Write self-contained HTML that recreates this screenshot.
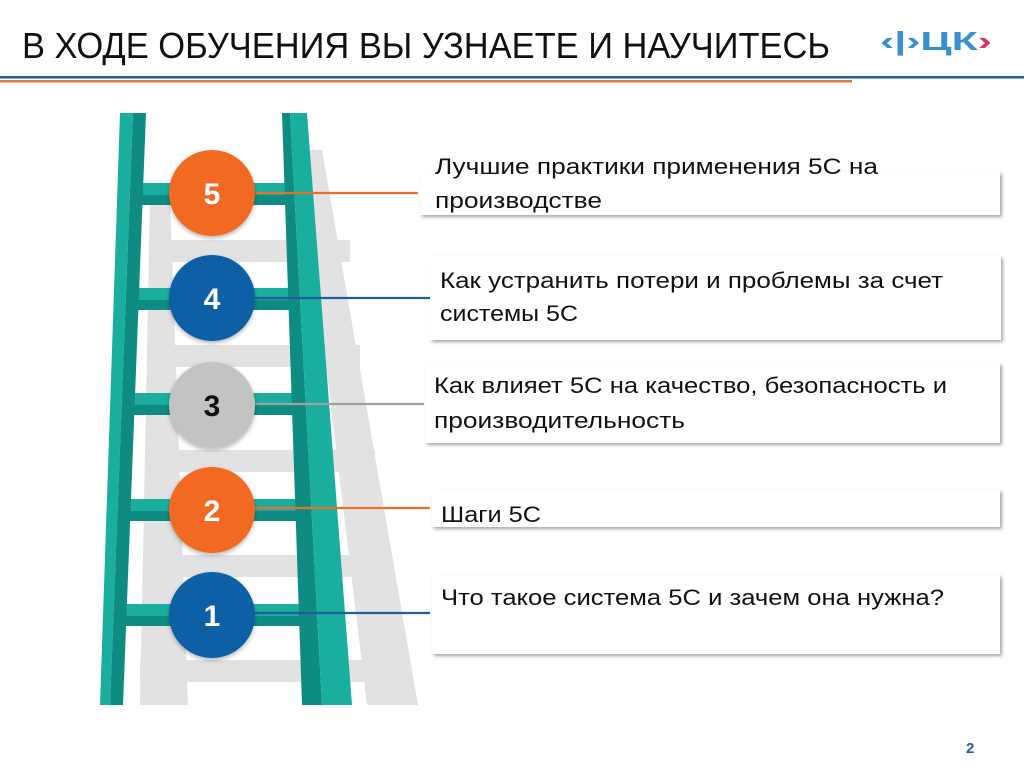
<!DOCTYPE html>
<html><head><meta charset="utf-8"><style>
html,body{margin:0;padding:0;background:#fff;}
svg{display:block;}
</style></head><body>
<svg width="1024" height="767" viewBox="0 0 1024 767" xmlns="http://www.w3.org/2000/svg" font-family="'Liberation Sans', sans-serif">
<defs>
<filter id="sh" x="-10%" y="-10%" width="120%" height="130%"><feDropShadow dx="2" dy="2" stdDeviation="1.5" flood-color="#000" flood-opacity="0.35"/></filter>
<filter id="cs" x="-20%" y="-20%" width="140%" height="140%"><feDropShadow dx="0" dy="2" stdDeviation="2" flood-color="#000" flood-opacity="0.3"/></filter>
</defs>
<rect width="1024" height="767" fill="#fff"/>
<!-- title -->
<text x="22" y="58" font-size="36" fill="#111" textLength="808" lengthAdjust="spacingAndGlyphs">В ХОДЕ ОБУЧЕНИЯ ВЫ УЗНАЕТЕ И НАУЧИТЕСЬ</text>
<text x="880" y="50" font-size="26" font-weight="bold" fill="#3a8fd0" textLength="112" lengthAdjust="spacingAndGlyphs">‹|›ЦК<tspan fill="#d8345f">›</tspan></text>
<rect x="0" y="76" width="1024" height="2.5" fill="#1f5f9a"/>
<rect x="0" y="80" width="852" height="2.5" fill="#e07a45"/>

<!-- shadow ladder -->
<g fill="#e2e2e2">
<polygon points="300,150 322,150 418,705 367,705"/>
<polygon points="150,200 170,200 188,705 140,705"/>
<rect x="160" y="240" width="190" height="22"/>
<rect x="155" y="345" width="205" height="22"/>
<rect x="150" y="450" width="225" height="22"/>
<rect x="145" y="555" width="240" height="22"/>
<rect x="140" y="660" width="255" height="22"/>
</g>

<!-- rungs -->
<g>
<rect x="135" y="183" width="155" height="12" fill="#1aae9f"/><rect x="135" y="195" width="155" height="10" fill="#0e8c82"/>
<rect x="131" y="288" width="163" height="12" fill="#1aae9f"/><rect x="131" y="300" width="163" height="10" fill="#0e8c82"/>
<rect x="126" y="393" width="172" height="12" fill="#1aae9f"/><rect x="126" y="405" width="172" height="10" fill="#0e8c82"/>
<rect x="120" y="499" width="183" height="12" fill="#1aae9f"/><rect x="120" y="511" width="183" height="10" fill="#0e8c82"/>
<rect x="115" y="604" width="193" height="12" fill="#1aae9f"/><rect x="115" y="616" width="193" height="10" fill="#0e8c82"/>
</g>
<!-- rails -->
<polygon points="120,113 133,113 110,705 100,705" fill="#1aae9f"/>
<polygon points="133,113 146,113 123,705 110,705" fill="#0e8c82"/>
<polygon points="282,113 290,113 322,705 302,705" fill="#0e8c82"/>
<polygon points="290,113 307,113 352,705 322,705" fill="#1aae9f"/>

<!-- connectors -->
<line x1="250" y1="193" x2="418" y2="193" stroke="#e8702a" stroke-width="2.2"/>
<line x1="250" y1="298" x2="430" y2="298" stroke="#1f5f9a" stroke-width="2.2"/>
<line x1="250" y1="404" x2="424" y2="404" stroke="#a0a0a0" stroke-width="2.2"/>
<line x1="250" y1="508" x2="430" y2="508" stroke="#e8702a" stroke-width="2.2"/>
<line x1="250" y1="613" x2="430" y2="613" stroke="#1f5f9a" stroke-width="2.2"/>

<!-- circles -->
<g filter="url(#cs)">
<circle cx="212" cy="193" r="43" fill="#f26b22"/>
<circle cx="212" cy="298" r="43" fill="#0f5fa6"/>
<circle cx="212" cy="405" r="43" fill="#c3c3c3"/>
<circle cx="212" cy="510" r="43" fill="#f26b22"/>
<circle cx="212" cy="615" r="43" fill="#0f5fa6"/>
</g>
<g font-size="30" font-weight="bold" text-anchor="middle">
<text x="212" y="204" fill="#fff">5</text>
<text x="212" y="309" fill="#fff">4</text>
<text x="212" y="416" fill="#111">3</text>
<text x="212" y="521" fill="#fff">2</text>
<text x="212" y="626" fill="#fff">1</text>
</g>

<!-- boxes -->
<g fill="#fff" filter="url(#sh)">
<rect x="420" y="172" width="580" height="43"/>
<rect x="430" y="256" width="571" height="84"/>
<rect x="425" y="363" width="575" height="80"/>
<rect x="432" y="490" width="568" height="37"/>
<rect x="432" y="575" width="568" height="79"/>
</g>
<g font-size="22" fill="#111">
<text x="435" y="174" textLength="443" lengthAdjust="spacingAndGlyphs">Лучшие практики применения 5С на</text>
<text x="435" y="208" textLength="167" lengthAdjust="spacingAndGlyphs">производстве</text>
<text x="440" y="288" textLength="503" lengthAdjust="spacingAndGlyphs">Как устранить потери и проблемы за счет</text>
<text x="440" y="321" textLength="138" lengthAdjust="spacingAndGlyphs">системы 5С</text>
<text x="434" y="393" textLength="513" lengthAdjust="spacingAndGlyphs">Как влияет 5С на качество, безопасность и</text>
<text x="434" y="428" textLength="251" lengthAdjust="spacingAndGlyphs">производительность</text>
<text x="441" y="522" textLength="100" lengthAdjust="spacingAndGlyphs">Шаги 5С</text>
<text x="441" y="605" textLength="503" lengthAdjust="spacingAndGlyphs">Что такое система 5С и зачем она нужна?</text>
</g>
<text x="966" y="753" font-size="15" font-weight="bold" fill="#1f5f9a">2</text>
</svg>
</body></html>
